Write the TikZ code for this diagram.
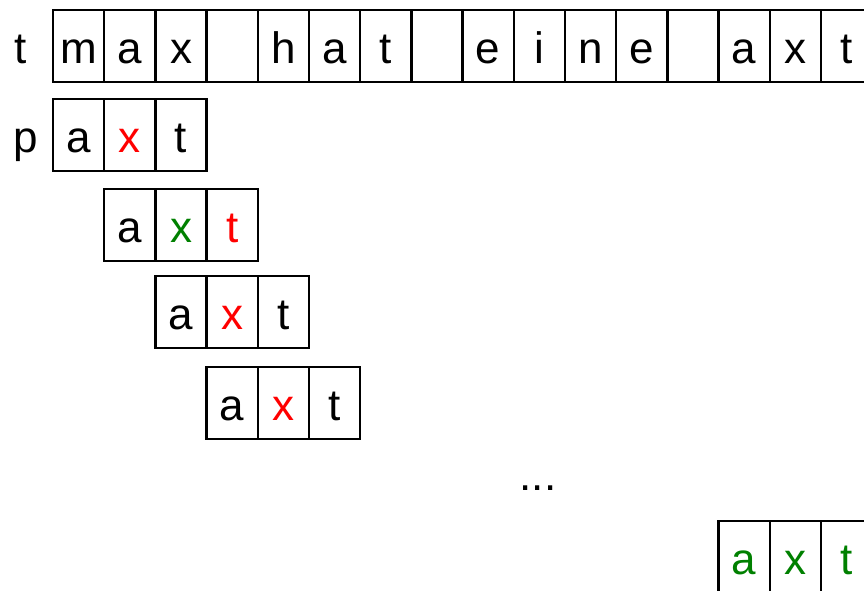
\documentclass[tikz,border=0pt]{standalone}
\usepackage{fontspec}
\setmainfont{Liberation Sans}
\usepackage{xcolor}
\usepackage{tikz}
\usetikzlibrary{positioning}
\definecolor{missred}{HTML}{FF0000}
\definecolor{hitgreen}{HTML}{008000}

\begin{document}
\begin{tikzpicture}[x=1pt, y=-1pt,
  cell/.style={draw=black, line width=2.5pt, minimum width=51.2pt, minimum height=72pt,
    inner sep=0pt, outer sep=0pt, font=\fontsize{44}{44}\selectfont,
    text height=34pt, text depth=0pt},
  lbl/.style={inner sep=0pt, font=\fontsize{44}{44}\selectfont,
    text height=34pt, text depth=0pt},
  miss/.style={text=missred},
  hit/.style={text=hitgreen}]
  \useasboundingbox (0,0) rectangle (864,590);
  \clip (0,0) rectangle (864,590);
  % text row
  \node[lbl] (tname) at (21,46) {t};
  \foreach \ch [count=\i from 0] in {m,a,x,{},h,a,t,{},e,i,n,e,{},a,x,t}
    \node[cell] (t\i) at ({78.6+51.2*\i},46) {\ch};
  % pattern, shift 0
  \node[lbl] (pname) at (26,135) {p};
  \node[cell] (p1a) at (78.6,135) {a};
  \node[cell, miss, right=0pt of p1a] (p1x) {x};
  \node[cell, right=0pt of p1x] (p1t) {t};
  % shift 1
  \node[cell] (p2a) at (129.8,225) {a};
  \node[cell, hit, right=0pt of p2a] (p2x) {x};
  \node[cell, miss, right=0pt of p2x] (p2t) {t};
  % shift 2
  \node[cell] (p3a) at (181,312) {a};
  \node[cell, miss, right=0pt of p3a] (p3x) {x};
  \node[cell, right=0pt of p3x] (p3t) {t};
  % shift 3
  \node[cell] (p4a) at (232.2,403) {a};
  \node[cell, miss, right=0pt of p4a] (p4x) {x};
  \node[cell, right=0pt of p4x] (p4t) {t};
  \node[lbl] (dots) at (538,473) {...};
  % match
  \node[cell, hit] (p5a) at (744.2,557) {a};
  \node[cell, hit, right=0pt of p5a] (p5x) {x};
  \node[cell, hit, right=0pt of p5x] (p5t) {t};
\end{tikzpicture}
\end{document}
